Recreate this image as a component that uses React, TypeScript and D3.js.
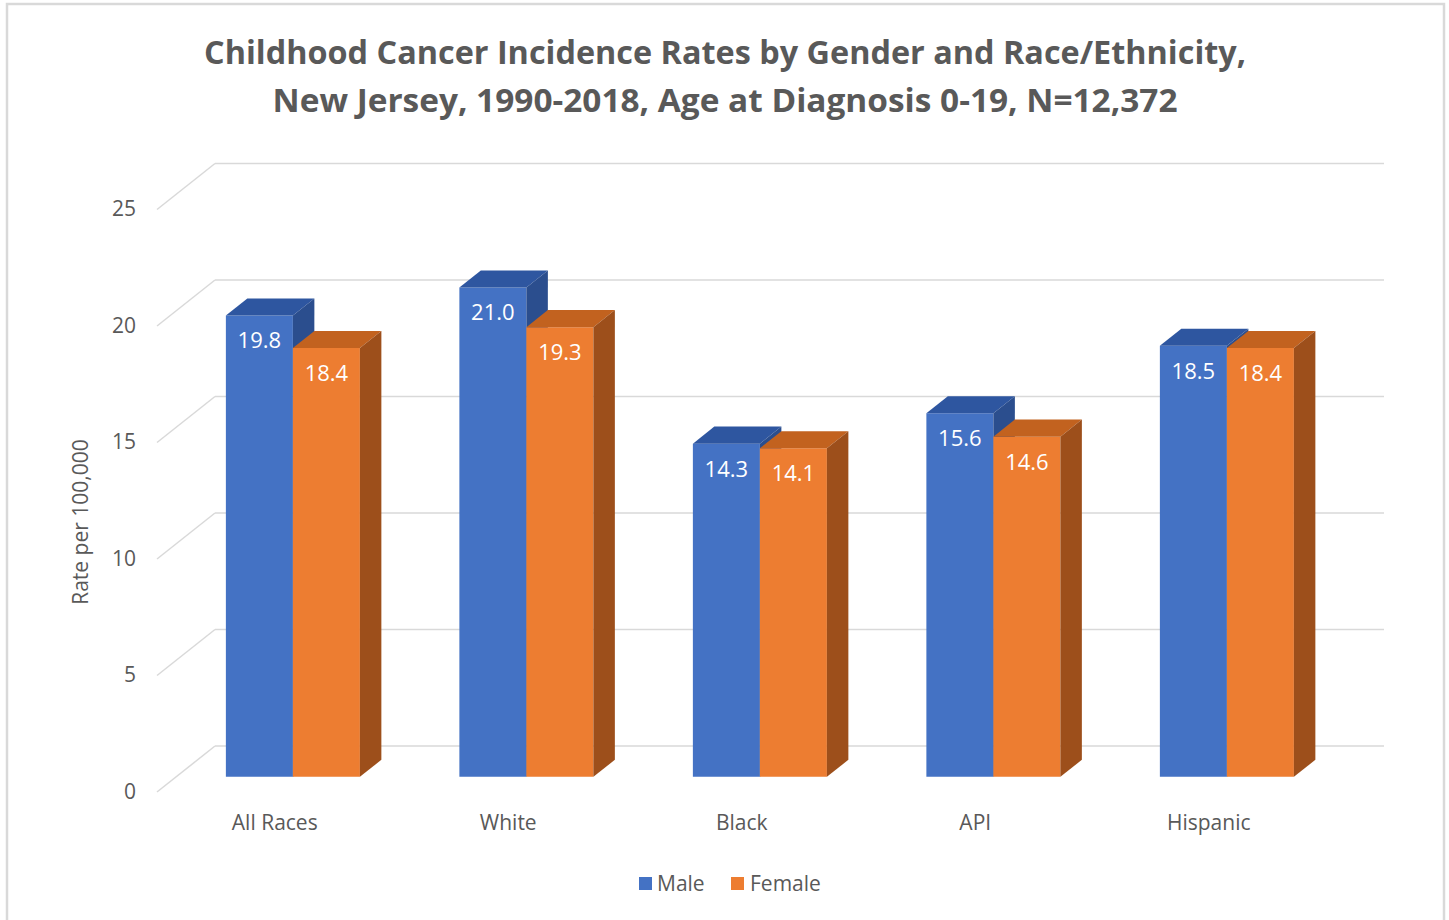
import React from "react";
import * as d3 from "d3";

const categories = ["All Races", "White", "Black", "API", "Hispanic"];
const maleValues = [19.8, 21.0, 14.3, 15.6, 18.5];
const femaleValues = [18.4, 19.3, 14.1, 14.6, 18.4];
const seriesNames = ["Male", "Female"];
const yTicks = [0, 5, 10, 15, 20, 25];
const titleLines = [
  "Childhood Cancer  Incidence Rates by Gender and Race/Ethnicity,",
  "New Jersey, 1990-2018, Age at Diagnosis 0-19, N=12,372",
];

const W = 1449;
const H = 920;
const FONT = "'Open Sans', 'Noto Sans', sans-serif";
const GRAY = "#595959";
const GRID = "#d9d9d9";

// 3D projection parameters
const frontLeft = 157;
const frontRight = 157 + 5 * 233.5;
const frontZeroY = 792;
const depthDX = 58;
const depthDY = -46;
const barFront = 0.33;
const barBack = 0.7;

const colors = {
  Male: { front: "#4472C4", top: "#2E56A0", side: "#2B4E8E" },
  Female: { front: "#ED7D31", top: "#C2621F", side: "#9D4F1B" },
};

export default function App() {
  const x = d3.scaleBand<string>().domain(categories).range([frontLeft, frontRight]).padding(0);
  const y = d3.scaleLinear().domain([0, 25]).range([0, 25 * 23.3]);
  const bw = x.bandwidth();
  const barW = bw * 0.574;
  const inner = d3.scaleBand<string>().domain(seriesNames).range([0, barW]).padding(0);

  const proj = (px: number, v: number, d: number): [number, number] => [
    px + d * depthDX,
    frontZeroY - y(v) + d * depthDY,
  ];
  const poly = (pts: [number, number][]) => pts.map((p) => p.join(",")).join(" ");

  const bars: any[] = [];
  categories.forEach((c, i) => {
    const vals = [maleValues[i], femaleValues[i]];
    seriesNames.forEach((s, j) => {
      const v = vals[j];
      const x0 = (x(c) as number) + (bw - barW) / 2 + (inner(s) as number);
      const x1 = x0 + inner.bandwidth();
      const col = (colors as any)[s];
      const fbl = proj(x0, 0, barFront);
      const fbr = proj(x1, 0, barFront);
      const ftl = proj(x0, v, barFront);
      const ftr = proj(x1, v, barFront);
      const btl = proj(x0, v, barBack);
      const btr = proj(x1, v, barBack);
      const bbr = proj(x1, 0, barBack);
      bars.push(
        <g key={c + s}>
          <polygon points={poly([fbl, fbr, ftr, ftl])} fill={col.front} />
          <polygon points={poly([ftl, ftr, btr, btl])} fill={col.top} />
          <polygon points={poly([fbr, bbr, btr, ftr])} fill={col.side} />
          <text
            x={(ftl[0] + ftr[0]) / 2}
            y={ftl[1] + 27}
            fill="#ffffff"
            fontSize={22}
            fontFamily={FONT}
            textAnchor="middle"
            dominantBaseline="middle"
          >
            {v.toFixed(1)}
          </text>
        </g>
      );
    });
  });

  return (
    <svg
      width={W}
      height={H}
      style={{ position: "absolute", left: 0, top: 0, background: "#fff" }}
    >
      <rect x={0} y={0} width={W} height={H} fill="#fff" />
      <path d={`M7,${H + 5} V4 H1444 V${H + 5}`} fill="none" stroke={GRID} strokeWidth={2.5} />

      <text x={725} y={64} textAnchor="middle" fontFamily={FONT} fontWeight={700} fontSize={32} fill={GRAY}
        textLength={1042} lengthAdjust="spacingAndGlyphs">
        {titleLines[0]}
      </text>
      <text x={725} y={112} textAnchor="middle" fontFamily={FONT} fontWeight={700} fontSize={32} fill={GRAY}
        textLength={905} lengthAdjust="spacingAndGlyphs">
        {titleLines[1]}
      </text>

      {yTicks.map((t) => {
        const f = proj(frontLeft, t, 0);
        const b = proj(frontLeft, t, 1);
        return (
          <g key={t}>
            <line x1={f[0]} y1={f[1]} x2={b[0]} y2={b[1]} stroke={GRID} strokeWidth={1.5} />
            <line x1={b[0]} y1={b[1]} x2={1384} y2={b[1]} stroke={GRID} strokeWidth={1.5} />
            <text x={136} y={f[1] + 1} textAnchor="end" dominantBaseline="middle" fontFamily={FONT} fontSize={21} fill={GRAY}>
              {t}
            </text>
          </g>
        );
      })}

      {bars}

      {categories.map((c) => (
        <text key={c} x={(x(c) as number) + bw / 2 + 1} y={824} textAnchor="middle" dominantBaseline="middle"
          fontFamily={FONT} fontSize={21} fill={GRAY}>
          {c}
        </text>
      ))}

      <text transform="translate(82,522) rotate(-90)" textAnchor="middle" dominantBaseline="middle"
        fontFamily={FONT} fontSize={21} fill={GRAY}>
        Rate per 100,000
      </text>

      <rect x={639} y={877} width={13} height={13} fill={colors.Male.front} />
      <text x={657} y={885} dominantBaseline="middle" fontFamily={FONT} fontSize={21} fill={GRAY}>
        {seriesNames[0]}
      </text>
      <rect x={731} y={877} width={13} height={13} fill={colors.Female.front} />
      <text x={750} y={885} dominantBaseline="middle" fontFamily={FONT} fontSize={21} fill={GRAY}>
        {seriesNames[1]}
      </text>
    </svg>
  );
}
